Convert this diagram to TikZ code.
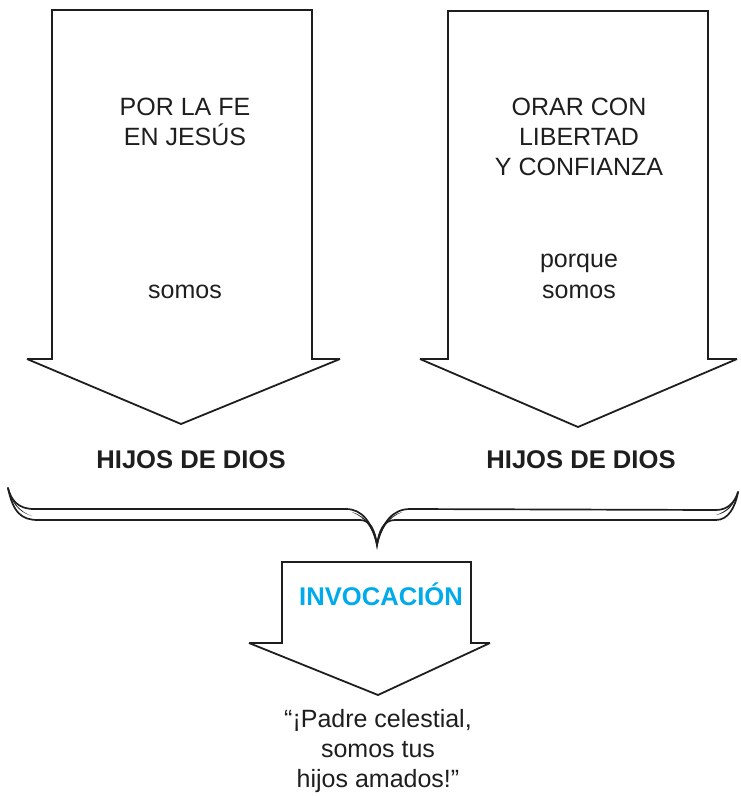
\documentclass[tikz,border=0pt]{standalone}
\usepackage{fontspec}
\setmainfont{Liberation Sans}
\definecolor{invcyan}{RGB}{0,170,235}
\definecolor{ink}{RGB}{30,30,30}
\begin{document}
\begin{tikzpicture}[x=1pt,y=-1pt,
  shaft/.style={draw=ink,line width=2.6pt,line join=miter},
  headline/.style={draw=ink,line width=1.8pt,line join=miter},
  txt/.style={anchor=base,inner sep=0pt,text=ink,font=\fontsize{25}{30}\selectfont},
  btxt/.style={anchor=base,inner sep=0pt,text=ink,font=\fontsize{25.6}{30}\selectfont\bfseries},
  bracestroke/.style={draw=ink,line width=1.7pt,line cap=round}]
\useasboundingbox (0,0) rectangle (740,796);

% left arrow
\coordinate (la1) at (52,10);
\coordinate (la2) at (312,10);
\coordinate (la3) at (312,359);
\coordinate (la4) at (340,359);
\coordinate (la5) at (181,424);
\coordinate (la6) at (27,359);
\coordinate (la7) at (52,359);
\draw[shaft] (la6) -- (la7) -- (la1) -- (la2) -- (la3) -- (la4);
\draw[headline] (la4) -- (la5) -- (la6);

% right arrow
\coordinate (ra1) at (448,11);
\coordinate (ra2) at (708,11);
\coordinate (ra3) at (708,359);
\coordinate (ra4) at (737,359);
\coordinate (ra5) at (578,427);
\coordinate (ra6) at (420,359);
\coordinate (ra7) at (448,359);
\draw[shaft] (ra6) -- (ra7) -- (ra1) -- (ra2) -- (ra3) -- (ra4);
\draw[headline] (ra4) -- (ra5) -- (ra6);

% small arrow
\coordinate (sa1) at (282,562);
\coordinate (sa2) at (471,562);
\coordinate (sa3) at (471,643);
\coordinate (sa4) at (490,643);
\coordinate (sa5) at (378,695);
\coordinate (sa6) at (249,643);
\coordinate (sa7) at (282,643);
\draw[shaft] (sa6) -- (sa7) -- (sa1) -- (sa2) -- (sa3) -- (sa4);
\draw[headline] (sa4) -- (sa5) -- (sa6);

% brace
\coordinate (bl) at (8,488);
\coordinate (br) at (738,492);
\coordinate (bt) at (377,545);
\draw[bracestroke] (bl) .. controls (11,500) and (18,509) .. (34,509) -- (346,509)
   .. controls (362,509) and (372,522) .. (bt)
   .. controls (382,522) and (393,509) .. (410,509) -- (716,510)
   .. controls (728,510) and (735,502) .. (br);
\draw[bracestroke] (bl) .. controls (13,512) and (21,520) .. (38,520) -- (360,520)
   .. controls (370,520) and (375,530) .. (bt)
   .. controls (379,530) and (384,520) .. (395,520) -- (716,520)
   .. controls (728,520) and (735,508) .. (br);
\fill[ink] (bl) .. controls (11,502) and (18,512) .. (32,516) .. controls (20,512) and (12,502) .. (bl);
\fill[ink] (br) .. controls (735,504) and (728,513) .. (716,515) .. controls (728,511) and (734,503) .. (br);
\fill[ink] (bt) .. controls (374,528) and (366,516) .. (352,512) .. controls (366,518) and (372,528) .. (bt);
\fill[ink] (bt) .. controls (380,528) and (388,516) .. (402,512) .. controls (388,518) and (382,528) .. (bt);

% texts
\node[txt] (t1) at (185,115) {POR LA FE};
\node[txt] (t2) at (185,145) {EN JESÚS};
\node[txt] (t3) at (185,298) {somos};
\node[btxt] (h1) at (191,468) {HIJOS DE DIOS};

\node[txt] (u1) at (579,115) {ORAR CON};
\node[txt] (u2) at (579,145) {LIBERTAD};
\node[txt] (u3) at (579,175) {Y CONFIANZA};
\node[txt] (u4) at (579,267) {porque};
\node[txt] (u5) at (579,298) {somos};
\node[btxt] (h2) at (581,468) {HIJOS DE DIOS};

\node[btxt,text=invcyan] (inv) at (381,605) {INVOCACIÓN};

\node[txt] (q1) at (378,727) {“¡Padre celestial,};
\node[txt] (q2) at (378,757) {somos tus};
\node[txt] (q3) at (378,787) {hijos amados!”};
\end{tikzpicture}
\end{document}
